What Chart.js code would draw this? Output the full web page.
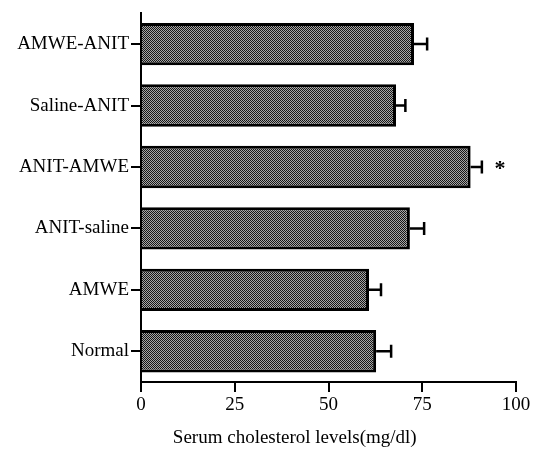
<!DOCTYPE html>
<html>
<head>
<meta charset="utf-8">
<script src="https://cdn.jsdelivr.net/npm/chart.js@4/dist/chart.umd.min.js"></script>
<style>
  html, body { margin: 0; padding: 0; background: #fff; }
  #wrap { width: 541px; height: 450px; }
</style>
</head>
<body>
<div id="wrap"><canvas id="chart" width="541" height="450"></canvas></div>
<script>
// groups, top to bottom
const groups = ['AMWE-ANIT', 'Saline-ANIT', 'ANIT-AMWE', 'ANIT-saline', 'AMWE', 'Normal'];
// mean serum cholesterol (mg/dl)
const means = [72.8, 68.0, 87.9, 71.7, 60.8, 62.7];
// error (SE)
const errors = [3.5, 2.5, 3.0, 3.8, 3.2, 4.0];
// significance marks
const marks = ['', '', '*', '', '', ''];
const xTicks = [0, 25, 50, 75, 100];
const xTitle = 'Serum cholesterol levels(mg/dl)';

const serif = '"Liberation Serif", "DejaVu Serif", serif';

// dense halftone-ish fill like the printed figure
function makePattern() {
  const c = document.createElement('canvas');
  c.width = 4; c.height = 4;
  const g = c.getContext('2d');
  g.fillStyle = '#a6a6a6';
  g.fillRect(0, 0, 4, 4);
  g.fillStyle = '#161616';
  for (let i = 0; i < 4; i++) {
    g.fillRect(i, i, 1, 1);
    g.fillRect((i + 2) % 4, i, 1, 1);
  }
  return g.createPattern(c, 'repeat');
}

const errorBars = {
  id: 'errorBars',
  afterDatasetsDraw(chart) {
    const ctx = chart.ctx;
    const x = chart.scales.x;
    const meta = chart.getDatasetMeta(0);
    ctx.save();
    ctx.strokeStyle = '#000';
    ctx.lineWidth = 2.5;
    meta.data.forEach((bar, i) => {
      const x0 = x.getPixelForValue(means[i]);
      const x1 = x.getPixelForValue(means[i] + errors[i]);
      const y = bar.y;
      ctx.beginPath();
      ctx.moveTo(x0, y);
      ctx.lineTo(x1, y);
      ctx.moveTo(x1, y - 6.5);
      ctx.lineTo(x1, y + 6.5);
      ctx.stroke();
      if (marks[i]) {
        ctx.fillStyle = '#000';
        ctx.font = 'bold 22px ' + serif;
        ctx.textAlign = 'center';
        ctx.textBaseline = 'middle';
        ctx.fillText(marks[i], x1 + 18, y + 2);
      }
    });
    ctx.restore();
  },
  afterDraw(chart) {
    // axis title sits a little left of centre in the original
    const ctx = chart.ctx;
    const x = chart.scales.x;
    ctx.save();
    ctx.fillStyle = '#000';
    ctx.font = '19px ' + serif;
    ctx.textAlign = 'center';
    ctx.textBaseline = 'middle';
    ctx.fillText(xTitle, x.left + (x.right - x.left) * 0.41, x.bottom - 12);
    ctx.restore();
  }
};

new Chart(document.getElementById('chart').getContext('2d'), {
  type: 'bar',
  data: {
    labels: groups,
    datasets: [{
      data: means,
      backgroundColor: makePattern(),
      borderColor: '#000',
      borderWidth: 3,
      barPercentage: 0.69,
      categoryPercentage: 1.0
    }]
  },
  options: {
    indexAxis: 'y',
    responsive: false,
    animation: false,
    layout: { padding: { top: 7, right: 25, left: 0, bottom: 0 } },
    plugins: {
      legend: { display: false },
      tooltip: { enabled: false }
    },
    scales: {
      x: {
        min: 0,
        max: 100,
        afterBuildTicks: s => { s.ticks = xTicks.map(v => ({ value: v })); },
        afterFit: s => { s.height = 68; },
        border: { display: true, color: '#000', width: 2 },
        grid: { drawOnChartArea: false, drawTicks: true, tickLength: 10, color: '#000', lineWidth: 2 },
        ticks: { color: '#000', font: { family: serif, size: 19 }, padding: 2, maxRotation: 0 }
      },
      y: {
        afterFit: s => { s.width = 141; },
        border: { display: true, color: '#000', width: 2 },
        grid: { offset: false, drawOnChartArea: false, drawTicks: true, tickLength: 10, color: '#000', lineWidth: 2 },
        ticks: { color: '#000', font: { family: serif, size: 19 }, padding: 2 }
      }
    }
  },
  plugins: [errorBars]
});
</script>
</body>
</html>
